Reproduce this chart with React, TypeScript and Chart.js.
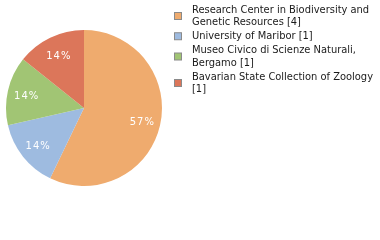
import React, { useEffect, useRef } from "react";
import { Chart, registerables } from "chart.js";

Chart.register(...registerables);

const categories: string[][] = [
  ["Research Center in Biodiversity and", "Genetic Resources [4]"],
  ["University of Maribor [1]"],
  ["Museo Civico di Scienze Naturali,", "Bergamo [1]"],
  ["Bavarian State Collection of Zoology", "[1]"],
];
const counts: number[] = [4, 1, 1, 1];
const colors: string[] = ["#EFAB6E", "#9EBBE0", "#A1C574", "#DC765A"];

const FONT = "DejaVu Sans Condensed";

const legendPlugin = {
  id: "customLegend",
  afterDraw(chart: any) {
    const ctx = chart.ctx;
    const lineH = 12.5;
    const gap = 1.5;
    let y = 3.5;
    ctx.save();
    ctx.font = `11px "${FONT}"`;
    ctx.textBaseline = "middle";
    categories.forEach((lines, i) => {
      const blockH = lines.length * lineH;
      const cy = y + blockH / 2;
      ctx.fillStyle = colors[i];
      ctx.fillRect(174.5, cy - 3.5, 7, 7);
      ctx.strokeStyle = "#8a8a8a";
      ctx.lineWidth = 1;
      ctx.strokeRect(174.5, cy - 3.5, 7, 7);
      ctx.fillStyle = "#1a1a1a";
      lines.forEach((t, j) => {
        ctx.fillText(t, 192, y + lineH * j + lineH / 2);
      });
      y += blockH + gap;
    });
    ctx.restore();
  },
};

const labelPlugin = {
  id: "pctLabels",
  afterDatasetsDraw(chart: any) {
    const ctx = chart.ctx;
    const meta = chart.getDatasetMeta(0);
    const total = counts.reduce((a, b) => a + b, 0);
    ctx.save();
    ctx.font = `10px "DejaVu Sans"`;
    ctx.fillStyle = "#fff";
    ctx.textAlign = "center";
    ctx.textBaseline = "middle";
    (ctx as any).letterSpacing = "1px";
    meta.data.forEach((arc: any, i: number) => {
      const mid = (arc.startAngle + arc.endAngle) / 2;
      const r = arc.outerRadius * 0.76;
      const x = arc.x + Math.cos(mid) * r;
      const yy = arc.y + Math.sin(mid) * r + 1.5;
      ctx.fillText(Math.round((counts[i] / total) * 100) + "%", x + 0.5, yy);
    });
    ctx.restore();
  },
};

export default function App() {
  const ref = useRef<HTMLCanvasElement>(null);
  useEffect(() => {
    if (!ref.current) return;
    const chart = new Chart(ref.current, {
      type: "pie",
      data: {
        labels: categories.map((l) => l.join(" ")),
        datasets: [
          {
            data: counts,
            backgroundColor: colors,
            borderWidth: 0,
          },
        ],
      },
      options: {
        animation: false,
        responsive: false,
        devicePixelRatio: 1,
        layout: { padding: { left: 6, top: 30, right: 218, bottom: 54 } },
        plugins: {
          legend: { display: false },
          tooltip: { enabled: false },
        },
      },
      plugins: [legendPlugin, labelPlugin],
    });
    return () => chart.destroy();
  }, []);
  return (
    <div style={{ position: "fixed", left: 0, top: 0, width: 380, height: 240, background: "#fff" }}>
      <canvas ref={ref} width={380} height={240} style={{ width: 380, height: 240 }} />
    </div>
  );
}
